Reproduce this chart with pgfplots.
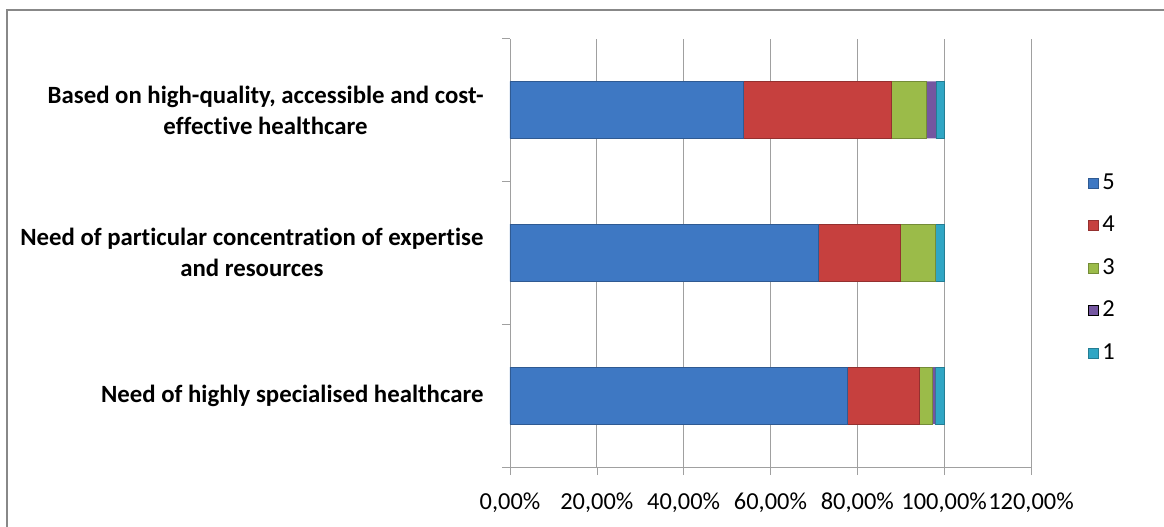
\documentclass[border=0pt]{standalone}
\usepackage{fontspec}
\setmainfont{Carlito}[Ligatures=NoCommon]
\usepackage{pgfplots}
\pgfplotsset{compat=1.18}
\definecolor{c5}{RGB}{62,120,195}
\definecolor{c4}{RGB}{198,64,62}
\definecolor{c3}{RGB}{155,187,73}
\definecolor{c2}{RGB}{116,86,160}
\definecolor{c1}{RGB}{48,166,196}
\definecolor{gridc}{RGB}{160,160,160}
\definecolor{framec}{RGB}{136,136,136}
\begin{document}
\fontsize{12.2}{15.5}\selectfont
\begin{tikzpicture}
\useasboundingbox (-255pt,-29.5pt) rectangle (327pt,233.5pt);
\draw[framec, line width=1pt] (-251.5pt,-40pt) -- (-251.5pt,228.5pt) -- (340pt,228.5pt);
\begin{axis}[
  at={(0,0)}, anchor=south west,
  scale only axis, width=260.5pt, height=214.25pt,
  xbar stacked, bar width=0.4,
  xmin=0, xmax=1.2, ymin=-0.5, ymax=2.5,
  axis x line*=bottom, axis y line*=left,
  axis line style={draw=gridc, -},
  xtick={0,0.2,0.4,0.6,0.8,1.0,1.2},
  xticklabels={{0,00\%},{20,00\%},{40,00\%},{60,00\%},{80,00\%},{100,00\%},{120,00\%}},
  xmajorgrids, grid style={gridc},
  x tick style={draw=gridc},
  tick align=outside,
  x tick label style={font=\fontsize{12.2}{14}\selectfont, yshift=-4.5pt},
  major tick length=4pt,
  ytick={0,1,2},
  yticklabels={{Need of highly specialised healthcare},{Need of particular concentration of expertise\\and resources},{Based on high-quality, accessible and cost-\\effective healthcare}},
  y tick label style={font=\fontsize{12.4}{15.5}\selectfont\bfseries, align=center, xshift=-5pt},
  y tick style={draw=none},
  extra y ticks={-0.5,0.5,1.5,2.5},
  extra y tick labels={},
  extra y tick style={y tick style={draw=gridc}, major tick length=4pt, grid=none},
  legend style={draw=none, fill=none, at={(axis description cs:1.108,0.4637)}, anchor=west,
    font=\fontsize{12.2}{14}\selectfont, row sep=7.5pt, inner sep=0pt,
    /tikz/every even column/.append style={column sep=0pt}},
  legend cell align=left,
  legend image code/.code={\draw[#1] (0pt,-2.5pt) rectangle (5pt,2.5pt);},
]
\addplot[fill=c5, draw=c5!75!black] coordinates {(0.777,0) (0.711,1) (0.537,2)};
\addplot[fill=c4, draw=c4!75!black] coordinates {(0.166,0) (0.189,1) (0.341,2)};
\addplot[fill=c3, draw=c3!75!black] coordinates {(0.029,0) (0.080,1) (0.081,2)};
\addplot[fill=c2, draw=none] coordinates {(0.008,0) (0.0,1) (0.022,2)};
\addplot[fill=c1, draw=c1!75!black] coordinates {(0.020,0) (0.020,1) (0.019,2)};
\legend{5,4,3,2,1}
\end{axis}
\end{tikzpicture}
\end{document}
